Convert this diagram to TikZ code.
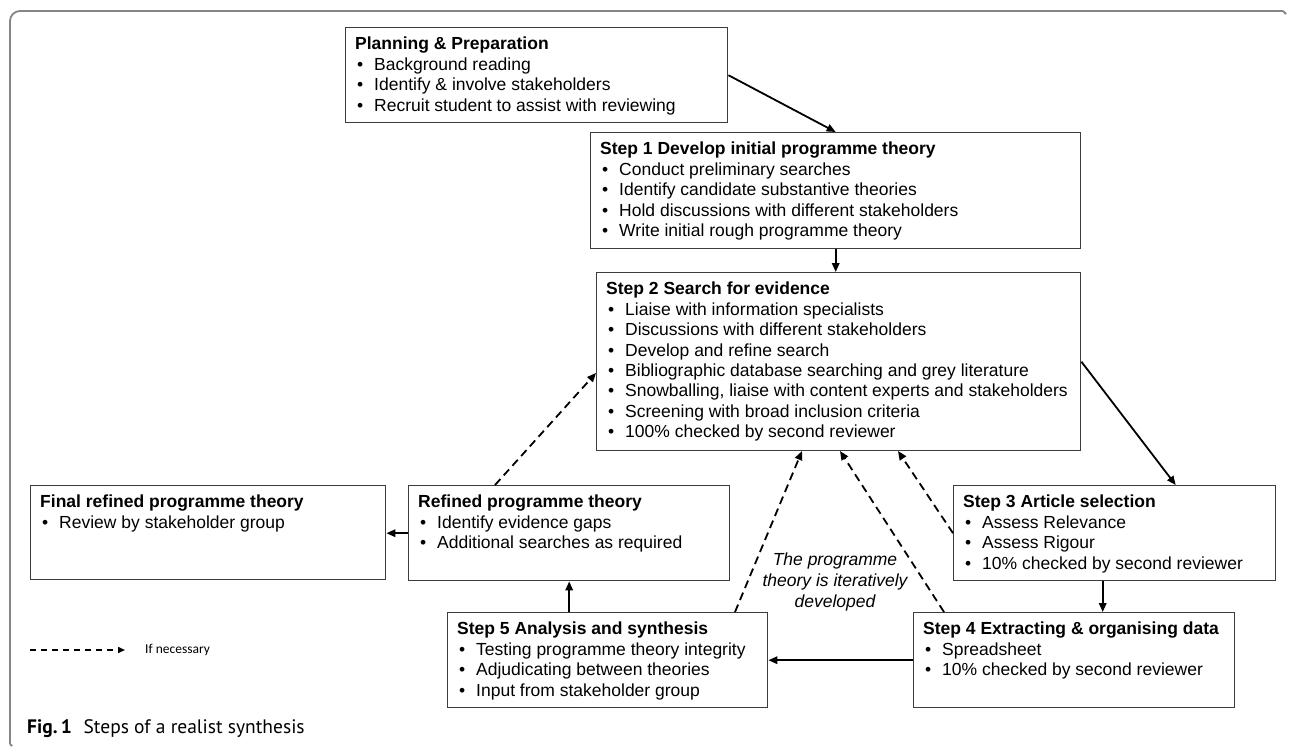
\documentclass[tikz,border=0pt]{standalone}
\usepackage{fontspec}
\setmainfont{Liberation Sans}
\newfontfamily\capfont{PT Sans}
\newfontfamily\legfont{Carlito}
\usetikzlibrary{arrows.meta}
\definecolor{boxgray}{HTML}{3C3C3C}
\definecolor{framegray}{HTML}{858585}
\newcommand{\bi}[1]{\makebox[19pt][l]{\hspace*{2pt}\textbullet}#1}
\newcommand{\stepbox}[6]{%
  \node[box, minimum width={#4-#2}, minimum height={#5-#3}] (#1) at (#2,#3) {};
  \node[txt] (#1t) at ({#2+10},{#3+10}) {#6};
}
\tikzset{
  box/.style={draw=boxgray, line width=1.4pt, anchor=north west, inner sep=0pt, fill=white},
  txt/.style={anchor=north west, inner sep=0pt, align=left, font=\fontsize{17.5}{20.4}\selectfont},
  arr/.style={-{Triangle[length=9pt,width=7.5pt]}, line width=1.8pt, black},
  dsh/.style={arr, dash pattern=on 8pt off 5pt},
  frame/.style={draw=framegray, line width=1.8pt}
}
\begin{document}
\begin{tikzpicture}[x=1pt,y=-1pt]
\useasboundingbox (0,0) rectangle (1290,747);
% frame
\draw[frame, rounded corners=10pt] (1283,11) -- (10,11) -- (10,744);
\draw[frame] (1283,11) -- (1286,14);
\draw[frame] (10,744) -- (12,746);

\stepbox{pl}{345}{27}{727}{122}{\textbf{Planning \& Preparation}\\\bi{Background reading}\\\bi{Identify \& involve stakeholders}\\\bi{Recruit student to assist with reviewing}}
\stepbox{s1}{590}{132}{1080}{248}{\textbf{Step 1 Develop initial programme theory}\\\bi{Conduct preliminary searches}\\\bi{Identify candidate substantive theories}\\\bi{Hold discussions with different stakeholders}\\\bi{Write initial rough programme theory}}
\stepbox{s2}{596}{272}{1080}{450}{\textbf{Step 2 Search for evidence}\\\bi{Liaise with information specialists}\\\bi{Discussions with different stakeholders}\\\bi{Develop and refine search}\\\bi{Bibliographic database searching and grey literature}\\\bi{Snowballing, liaise with content experts and stakeholders}\\\bi{Screening with broad inclusion criteria}\\\bi{100\% checked by second reviewer}}
\stepbox{fin}{30}{485}{385}{579}{\textbf{Final refined programme theory}\\\bi{Review by stakeholder group}}
\stepbox{rf}{408}{485}{729}{580}{\textbf{Refined programme theory}\\\bi{Identify evidence gaps}\\\bi{Additional searches as required}}
\stepbox{s3}{953}{485}{1275}{580}{\textbf{Step 3 Article selection}\\\bi{Assess Relevance}\\\bi{Assess Rigour}\\\bi{10\% checked by second reviewer}}
\stepbox{s5}{447}{612}{767}{707}{\textbf{Step 5 Analysis and synthesis}\\\bi{Testing programme theory integrity}\\\bi{Adjudicating between theories}\\\bi{Input from stakeholder group}}
\stepbox{s4}{913}{612}{1234}{707}{\textbf{Step 4 Extracting \& organising data}\\\bi{Spreadsheet}\\\bi{10\% checked by second reviewer}}

% solid connectors
\draw[arr] (pl.east) -- (s1.north);
\draw[arr] (s1.south) -- (s1.south |- s2.north);
\draw[arr] (s2.east) -- ([xshift=61pt]s3.north);
\draw[arr] ([xshift=-12pt]s3.south) -- ([xshift=-12pt]s3.south |- s4.north);
\draw[arr] (s4.west) -- (s4.west -| s5.east);
\draw[arr] (rf.south |- s5.north) -- (rf.south);
\draw[arr] (rf.west) -- (rf.west -| fin.east);

% dashed connectors
\coordinate (d1a) at (495,485);
\coordinate (d1b) at (596,373);
\draw[dsh] (d1a) -- (d1b);
\coordinate (d2a) at (735,612);
\coordinate (d2b) at (802,451);
\draw[dsh] (d2a) -- (d2b);
\coordinate (d3a) at (944,612);
\coordinate (d3b) at (840,451);
\draw[dsh] (d3a) -- (d3b);
\coordinate (d4b) at (898,451);
\draw[dsh] (s3.west) -- (d4b);

\node[align=center, inner sep=0pt, font=\itshape\fontsize{17.5}{21}\selectfont] (note) at (835,582) {The programme\\theory is iteratively\\developed};

% legend
\coordinate (lga) at (30,650);
\coordinate (lgb) at (125,650);
\draw[arr, line width=1.5pt, dash pattern=on 6pt off 5pt, -{Triangle[length=7pt,width=6pt]}] (lga) -- (lgb);
\node[anchor=west, inner sep=0pt, font=\legfont\fontsize{13.5}{15}\selectfont] (leg) at (145,650) {If necessary};

% caption
\node[anchor=base west, inner sep=0pt, font=\capfont\fontsize{19.5}{21}\selectfont] (cap) at (27,733) {\textbf{Fig.\,1}\hspace{0.6em}Steps of a realist synthesis};
\end{tikzpicture}
\end{document}
